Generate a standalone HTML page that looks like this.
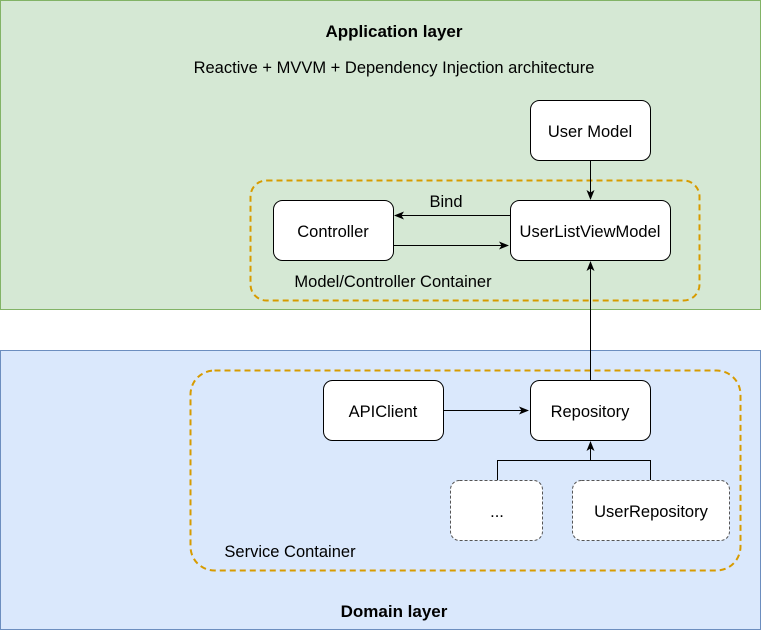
<!DOCTYPE html>
<html><head><style>body{margin:0;background:#fff}svg{display:block}</style></head><body>
<svg width="761" height="631" viewBox="0 0 761 631" font-family="Liberation Sans, Helvetica, sans-serif" font-size="16.5">
<defs><marker id="a" viewBox="0 0 10 10" refX="9" refY="5" markerWidth="10" markerHeight="10" markerUnits="userSpaceOnUse" orient="auto"><path d="M0,1 L10,5 L0,9 L2.5,5 Z" fill="#000"/></marker></defs>
<rect x="0.5" y="0.5" width="760" height="309" fill="#d5e8d4" stroke="#82b366"/>
<rect x="0.5" y="350.5" width="760" height="279" fill="#dae8fc" stroke="#6c8ebf"/>
<text x="394" y="37" text-anchor="middle" font-weight="bold" font-size="17">Application layer</text>
<text x="394" y="73" text-anchor="middle">Reactive + MVVM + Dependency Injection architecture</text>
<text x="394" y="617" text-anchor="middle" font-weight="bold" font-size="17">Domain layer</text>
<rect x="250.5" y="180.5" width="449" height="120" rx="16" fill="none" stroke="#d79b00" stroke-width="2" stroke-dasharray="6 4"/>
<rect x="190.5" y="370.5" width="550" height="200" rx="24" fill="none" stroke="#d79b00" stroke-width="2" stroke-dasharray="6 4"/>
<g stroke="#000" fill="#fff">
<rect x="530.5" y="100.5" width="120" height="60" rx="9"/>
<rect x="273.5" y="200.5" width="120" height="60" rx="9"/>
<rect x="510.5" y="200.5" width="160" height="60" rx="9"/>
<rect x="323.5" y="380.5" width="120" height="60" rx="9"/>
<rect x="530.5" y="380.5" width="120" height="60" rx="9"/>
</g>
<g stroke="#555" fill="#fff" stroke-dasharray="3 2">
<rect x="450.5" y="480.5" width="92" height="60" rx="9"/>
<rect x="572.5" y="480.5" width="157" height="60" rx="9"/>
</g>
<g stroke="#000" fill="none" marker-end="url(#a)">
<path d="M590.5 160 V199"/>
<path d="M510 215.5 H395"/>
<path d="M393 245.5 H508"/>
<path d="M590.5 380 V262"/>
<path d="M443 410.5 H528"/>
<path d="M590.5 460.5 V442"/>
</g>
<path d="M497.5 480 V460.5 H650.5 V480" stroke="#000" fill="none"/>
<g text-anchor="middle">
<text x="590" y="137">User Model</text>
<text x="333" y="237">Controller</text>
<text x="590" y="237">UserListViewModel</text>
<text x="446" y="207">Bind</text>
<text x="393" y="287">Model/Controller Container</text>
<text x="383" y="417">APIClient</text>
<text x="590" y="417">Repository</text>
<text x="497" y="517">...</text>
<text x="651" y="517">UserRepository</text>
<text x="290" y="557">Service Container</text>
</g>
</svg>
</body></html>
